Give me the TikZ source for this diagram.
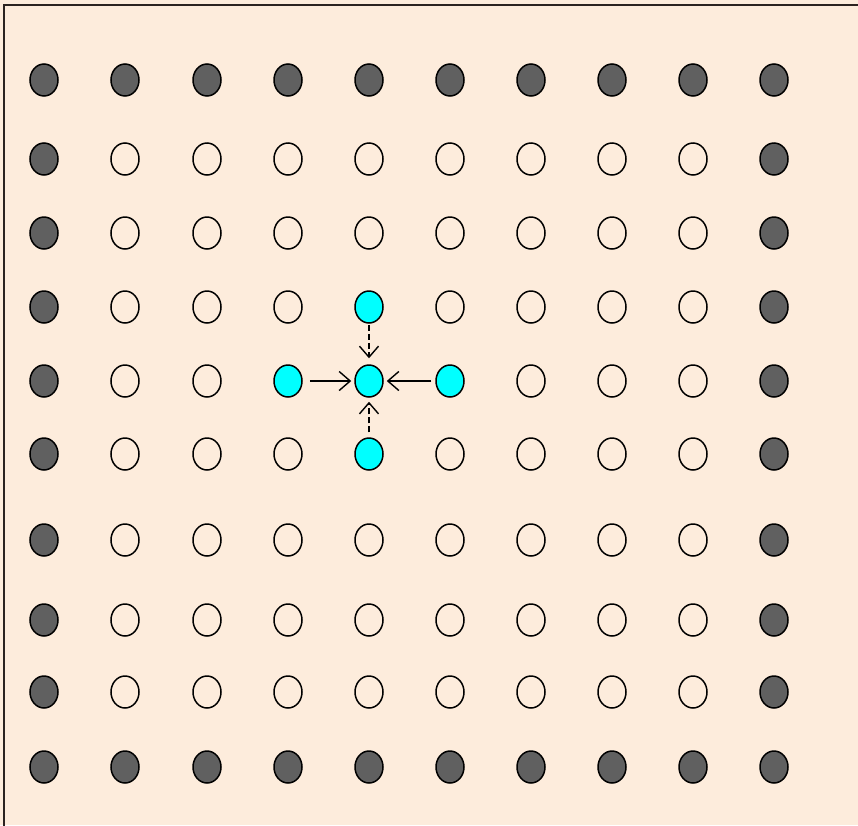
\documentclass[tikz,border=0pt]{standalone}
\usetikzlibrary{shapes.geometric,arrows.meta}
\definecolor{bgpeach}{RGB}{253,236,220}
\definecolor{framec}{RGB}{43,35,32}
\definecolor{darkdot}{RGB}{96,96,96}
\definecolor{cyandot}{RGB}{0,255,255}
\begin{document}
\begin{tikzpicture}[x=1pt,y=-1pt,
  dot/.style={ellipse,draw=black,line width=1.5pt,minimum width=28pt,minimum height=32pt,inner sep=0pt},
  emptydot/.style={dot,fill=none},
  filldot/.style={dot,fill=darkdot},
  activedot/.style={dot,fill=cyandot},
  flow/.style={-{Straight Barb[length=11pt,width=19pt,line width=1.4pt]},line width=1.4pt},
  dflow/.style={flow,dash pattern=on 6pt off 3pt}]
\useasboundingbox (0,0) rectangle (858,825);
\fill[bgpeach] (0,0) rectangle (858,825);
\draw[framec,line width=2pt] (3.5,826) -- (3.5,5) -- (859,5);
\def\rowys{80,159,233,307,381,454,540,620,692,767}
\def\colxs{44,125,207,288,369,450,531,612,693,774}
\foreach \y [count=\i] in \rowys {
  \foreach \x [count=\j] in \colxs {
    \pgfmathtruncatemacro{\edge}{(\i==1)||(\i==10)||(\j==1)||(\j==10)}
    \pgfmathtruncatemacro{\act}{((\i==4)&&(\j==5))||((\i==5)&&(\j>=4)&&(\j<=6))||((\i==6)&&(\j==5))}
    \ifnum\edge=1
      \node[filldot] (c-\i-\j) at (\x,\y) {};
    \else\ifnum\act=1
      \node[activedot] (c-\i-\j) at (\x,\y) {};
    \else
      \node[emptydot] (c-\i-\j) at (\x,\y) {};
    \fi\fi
  }
}
\draw[flow,shorten <=7pt,shorten >=3pt] (c-5-4) -- (c-5-5);
\draw[flow,shorten <=4pt,shorten >=3pt] (c-5-6) -- (c-5-5);
\draw[dflow,shorten <=1pt,shorten >=6pt] (c-4-5) -- (c-5-5);
\draw[dflow,shorten <=5pt,shorten >=4pt] (c-6-5) -- (c-5-5);
\end{tikzpicture}
\end{document}
